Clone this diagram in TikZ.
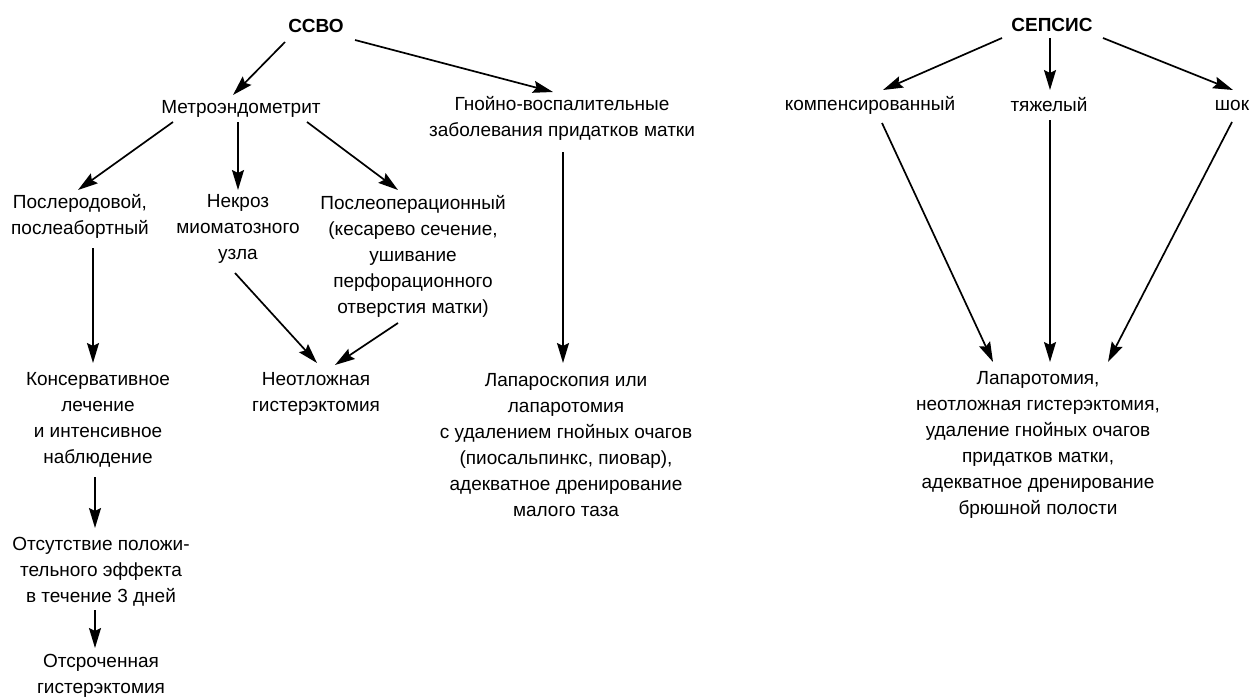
\documentclass[tikz,border=0pt]{standalone}
\usepackage{fontspec}
\setmainfont{Liberation Sans}
\usetikzlibrary{arrows.meta}

\begin{document}
\begin{tikzpicture}[x=1pt,y=-1pt,
  txt/.style={align=center,inner sep=0pt,font=\fontsize{19}{26}\selectfont},
  head/.style={txt,font=\fontsize{19}{26}\selectfont\bfseries},
  arr/.style={line width=1.7pt,-{Stealth[length=20pt,width=12pt,inset=3pt]}}]

\useasboundingbox (0,0) rectangle (1251,699);

% ССВО
\node[head] (ssvo) at (316,26) {ССВО};

\node[txt] (metro) at (241,109) {Метроэндометрит};
\node[txt] (gnoy) at (562,118)
{Гнойно-воспалительные\\заболевания придатков матки};

\node[txt] (poslerod) at (80,216) {Послеродовой,\\послеабортный};
\node[txt] (nekroz) at (238,229) {Некроз\\миоматозного\\узла};
\node[txt] (posleop) at (413,256)
{Послеоперационный\\(кесарево сечение,\\ушивание\\перфорационного\\отверстия матки)};

\node[txt] (konserv) at (98,420)
{Консервативное\\лечение\\и интенсивное\\наблюдение};
\node[txt] (otsut) at (101,572)
{Отсутствие положи-\\тельного эффекта\\в течение 3 дней};
\node[txt] (otsroch) at (101,676) {Отсроченная\\гистерэктомия};

\node[txt] (neotl) at (316,394) {Неотложная\\гистерэктомия};
\node[txt] (laparosk) at (566,445)
{Лапароскопия или\\лапаротомия\\с удалением гнойных очагов\\(пиосальпинкс, пиовар),\\адекватное дренирование\\малого таза};

\draw[arr] ([shift={(-31,16)}]ssvo.center) -- ([shift={(-8,-14)}]metro.center);
\draw[arr] ([shift={(39,14)}]ssvo.center) -- ([shift={(-9,-26)}]gnoy.center);
\draw[arr] ([shift={(-68,13)}]metro.center) -- ([shift={(-2,-26)}]poslerod.center);
\draw[arr] ([shift={(-3,13)}]metro.center) -- ([shift={(0,-39)}]nekroz.center);
\draw[arr] ([shift={(66,13)}]metro.center) -- ([shift={(-15,-66)}]posleop.center);
\draw[arr] ([shift={(13,32)}]poslerod.center) -- ([shift={(-5,-57)}]konserv.center);
\draw[arr] ([shift={(-3,44)}]nekroz.center) -- ([shift={(1,-31)}]neotl.center);
\draw[arr] ([shift={(-15,67)}]posleop.center) -- ([shift={(19,-29)}]neotl.center);
\draw[arr] ([shift={(1,34)}]gnoy.center) -- ([shift={(-3,-82)}]laparosk.center);
\draw[arr] ([shift={(-3,57)}]konserv.center) -- ([shift={(-6,-44)}]otsut.center);
\draw[arr] ([shift={(-6,38)}]otsut.center) -- ([shift={(-6,-28)}]otsroch.center);

% Сепсис
\node[head] (sepsis) at (1052,25) {СЕПСИС};

\node[txt] (komp) at (870,105) {компенсированный};
\node[txt] (tyazh) at (1049,105) {тяжелый};
\node[txt] (shok) at (1232,105) {шок};

\node[txt] (laparot) at (1038,445)
{Лапаротомия,\\неотложная гистерэктомия,\\удаление гнойных очагов\\придатков матки,\\адекватное дренирование\\брюшной полости};

\draw[arr] ([shift={(-50,13)}]sepsis.center) -- ([shift={(13,-15)}]komp.center);
\draw[arr] ([shift={(-2,13)}]sepsis.center) -- ([shift={(1,-15)}]tyazh.center);
\draw[arr] ([shift={(51,13)}]sepsis.center) -- ([shift={(1,-15)}]shok.center);
\draw[arr] ([shift={(12,18)}]komp.center) -- ([shift={(-45,-83)}]laparot.center);
\draw[arr] ([shift={(1,15)}]tyazh.center) -- ([shift={(12,-83)}]laparot.center);
\draw[arr] ([shift={(0,17)}]shok.center) -- ([shift={(70,-83)}]laparot.center);

\end{tikzpicture}
\end{document}
